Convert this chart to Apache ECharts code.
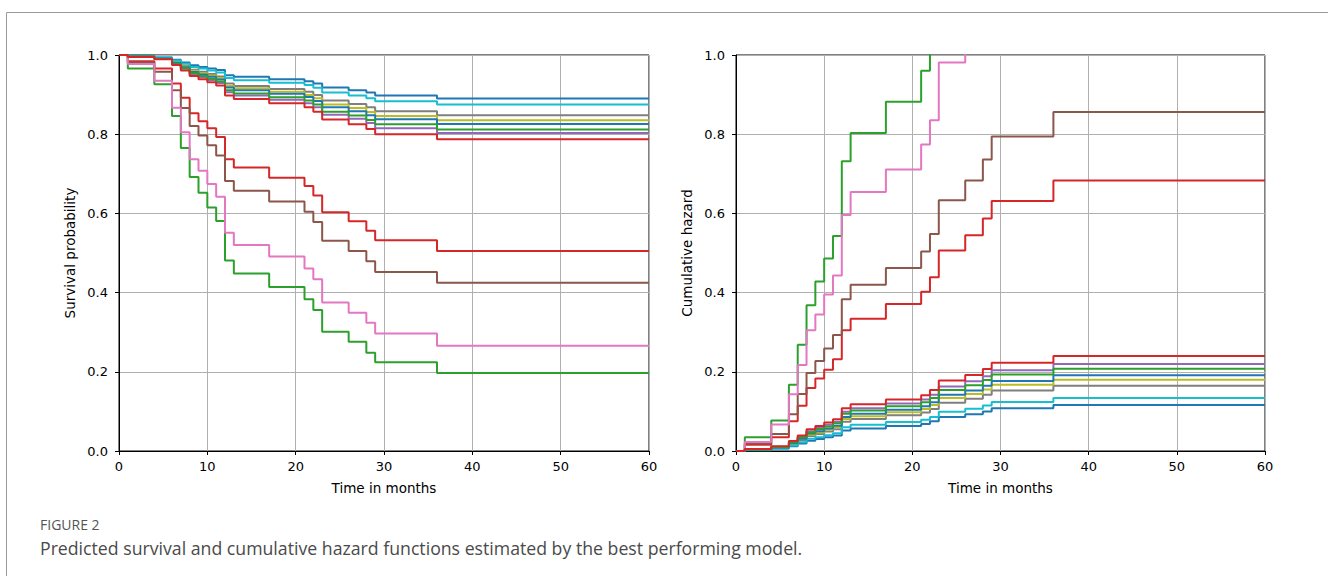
<!DOCTYPE html>
<html><head><meta charset="utf-8">
<script src="https://cdn.jsdelivr.net/npm/echarts@6/dist/echarts.min.js"></script>
<style>html,body{margin:0;padding:0;background:#fff}#c{width:1328px;height:576px}</style>
</head><body><div id="c"></div><script>
// Event times (months)
const times = [0,1,4,6,7,8,9,10,11,12,13,17,21,22,23,26,28,29,36,60];
const xTicks = [0,10,20,30,40,50,60];
const yTicks = [0.0,0.2,0.4,0.6,0.8,1.0];

// Survival probabilities
const survBlue1  = [1,0.998,0.994,0.988,0.981,0.974,0.970,0.966,0.962,0.949,0.945,0.939,0.934,0.928,0.918,0.911,0.905,0.898,0.890,0.890];
const survGreen2 = [1,0.966,0.926,0.846,0.765,0.692,0.652,0.615,0.581,0.481,0.448,0.414,0.383,0.356,0.301,0.276,0.248,0.224,0.197,0.197];
const survRed2   = [1,0.984,0.966,0.928,0.892,0.853,0.833,0.815,0.793,0.737,0.716,0.690,0.669,0.645,0.603,0.580,0.556,0.532,0.505,0.505];
const survPurple = [1,0.996,0.990,0.977,0.965,0.951,0.944,0.937,0.929,0.906,0.898,0.887,0.878,0.868,0.849,0.839,0.828,0.815,0.803,0.803];
const survBrown  = [1,0.981,0.958,0.911,0.866,0.821,0.797,0.772,0.746,0.682,0.657,0.630,0.604,0.578,0.531,0.505,0.479,0.452,0.425,0.425];
const survPink   = [1,0.977,0.935,0.867,0.805,0.737,0.708,0.674,0.642,0.551,0.520,0.491,0.461,0.434,0.375,0.349,0.324,0.297,0.266,0.266];
const survGray   = [1,0.997,0.992,0.983,0.973,0.963,0.958,0.952,0.946,0.928,0.922,0.914,0.907,0.899,0.885,0.876,0.868,0.858,0.848,0.848];
const survOlive  = [1,0.996,0.991,0.981,0.971,0.960,0.954,0.948,0.942,0.922,0.916,0.907,0.899,0.891,0.875,0.866,0.856,0.846,0.835,0.835];
const survCyan   = [1,0.997,0.994,0.986,0.978,0.970,0.966,0.961,0.956,0.942,0.936,0.930,0.924,0.917,0.905,0.898,0.891,0.883,0.875,0.875];
const survBlue2  = [1,0.996,0.991,0.980,0.969,0.957,0.951,0.945,0.938,0.918,0.911,0.902,0.894,0.884,0.868,0.858,0.848,0.838,0.826,0.826];
const survGreen1 = [1,0.996,0.990,0.978,0.967,0.954,0.947,0.940,0.933,0.911,0.903,0.893,0.885,0.875,0.857,0.847,0.836,0.825,0.812,0.812];
const survRed1   = [1,0.995,0.989,0.975,0.961,0.947,0.939,0.931,0.923,0.898,0.889,0.878,0.868,0.857,0.837,0.825,0.813,0.800,0.787,0.787];

// Cumulative hazards
const hazBlue1  = [0,0.002,0.006,0.012,0.019,0.026,0.030,0.035,0.039,0.052,0.057,0.063,0.068,0.075,0.086,0.093,0.100,0.108,0.116,0.116];
const hazGreen2 = [0,0.035,0.077,0.167,0.268,0.368,0.428,0.486,0.543,0.732,0.803,0.882,0.960,1.033,1.201,1.287,1.394,1.496,1.625,1.625];
const hazRed2   = [0,0.016,0.035,0.075,0.114,0.159,0.183,0.205,0.232,0.305,0.334,0.371,0.402,0.439,0.506,0.545,0.587,0.631,0.683,0.683];
const hazPurple = [0,0.004,0.011,0.023,0.036,0.050,0.058,0.066,0.074,0.099,0.108,0.120,0.130,0.142,0.163,0.176,0.189,0.204,0.220,0.220];
const hazBrown  = [0,0.019,0.043,0.093,0.144,0.197,0.227,0.259,0.293,0.383,0.420,0.462,0.504,0.548,0.633,0.683,0.736,0.794,0.856,0.856];
const hazPink   = [0,0.023,0.067,0.143,0.217,0.305,0.345,0.395,0.443,0.596,0.654,0.711,0.774,0.835,0.981,1.053,1.127,1.214,1.324,1.324];
const hazGray   = [0,0.003,0.008,0.017,0.027,0.038,0.043,0.049,0.055,0.074,0.081,0.090,0.097,0.106,0.122,0.132,0.142,0.153,0.165,0.165];
const hazOlive  = [0,0.004,0.009,0.019,0.030,0.041,0.047,0.054,0.060,0.081,0.088,0.098,0.106,0.116,0.134,0.144,0.155,0.167,0.180,0.180];
const hazCyan   = [0,0.003,0.006,0.014,0.022,0.031,0.035,0.040,0.045,0.060,0.066,0.073,0.079,0.086,0.099,0.107,0.115,0.124,0.134,0.134];
const hazBlue2  = [0,0.004,0.009,0.020,0.031,0.044,0.050,0.057,0.064,0.086,0.094,0.104,0.113,0.123,0.142,0.153,0.165,0.177,0.191,0.191];
const hazGreen1 = [0,0.004,0.010,0.022,0.034,0.047,0.055,0.062,0.070,0.094,0.102,0.113,0.123,0.134,0.154,0.166,0.179,0.193,0.208,0.208];
const hazRed1   = [0,0.005,0.012,0.025,0.039,0.055,0.063,0.072,0.080,0.108,0.118,0.130,0.141,0.154,0.178,0.192,0.207,0.223,0.240,0.240];

const survList = [survBlue1,survGreen2,survRed2,survPurple,survBrown,survPink,survGray,survOlive,survCyan,survBlue2,survGreen1,survRed1];
const hazList  = [hazBlue1,hazGreen2,hazRed2,hazPurple,hazBrown,hazPink,hazGray,hazOlive,hazCyan,hazBlue2,hazGreen1,hazRed1];
const colors = ['#1f77b4','#2ca02c','#d62728','#9467bd','#8c564b','#e377c2','#7f7f7f','#bcbd22','#17becf','#1f77b4','#2ca02c','#d62728'];

const FONT = 'DejaVu Sans';
function xAxis(gi){
  return {type:'value', gridIndex:gi, min:xTicks[0], max:xTicks[xTicks.length-1], interval:10,
    name:'Time in months', nameLocation:'middle', nameGap:30,
    nameTextStyle:{color:'#000', fontSize:13.5, fontFamily:FONT},
    axisLine:{show:true, onZero:false, lineStyle:{color:'#000', width:1}},
    axisTick:{show:true, length:4, lineStyle:{color:'#000', width:1}},
    axisLabel:{color:'#000', fontSize:13, fontFamily:FONT, margin:9},
    splitLine:{show:true, lineStyle:{color:'#b0b0b0', width:1}}};
}
function yAxis(gi, name){
  return {type:'value', gridIndex:gi, min:yTicks[0], max:yTicks[yTicks.length-1], interval:0.2,
    name:name, nameLocation:'middle', nameGap:42,
    nameTextStyle:{color:'#000', fontSize:13.5, fontFamily:FONT},
    axisLine:{show:true, onZero:false, lineStyle:{color:'#000', width:1}},
    axisTick:{show:true, length:4, lineStyle:{color:'#000', width:1}},
    axisLabel:{color:'#000', fontSize:13, fontFamily:FONT, margin:11, formatter:v=>v.toFixed(1)},
    splitLine:{show:true, lineStyle:{color:'#b0b0b0', width:1}}};
}
const series = [];
survList.forEach((arr,i)=>series.push({type:'line', xAxisIndex:0, yAxisIndex:0, step:'end', symbol:'none', clip:true,
  lineStyle:{width:2, color:colors[i]}, itemStyle:{color:colors[i]}, data:times.map((t,k)=>[t,arr[k]])}));
hazList.forEach((arr,i)=>series.push({type:'line', xAxisIndex:1, yAxisIndex:1, step:'end', symbol:'none', clip:true,
  lineStyle:{width:2, color:colors[i]}, itemStyle:{color:colors[i]}, data:times.map((t,k)=>[t,arr[k]])}));

const chart = echarts.init(document.getElementById('c'), null, {renderer:'svg'});
chart.setOption({
  animation:false,
  backgroundColor:'#fff',
  grid:[
    {left:119, top:55, width:530, height:396, show:true, borderColor:'#000', borderWidth:1, backgroundColor:'transparent', containLabel:false},
    {left:736, top:55, width:529, height:396, show:true, borderColor:'#000', borderWidth:1, backgroundColor:'transparent', containLabel:false}
  ],
  xAxis:[xAxis(0), xAxis(1)],
  yAxis:[yAxis(0,'Survival probability'), yAxis(1,'Cumulative hazard')],
  series:series,
  graphic:[
    {type:'polyline', silent:true, shape:{points:[[6.5,576],[6.5,12.5],[1328,12.5]]}, style:{stroke:'#9a9a9a', lineWidth:1, fill:null}},
    {type:'text', x:40, y:524, style:{text:'FIGURE 2', fill:'#555', fontSize:14, fontFamily:'Open Sans', verticalAlign:'middle'}},
    {type:'text', x:40, y:548, style:{text:'Predicted survival and cumulative hazard functions estimated by the best performing model.', fill:'#4a4a4a', fontSize:17.7, fontFamily:'Open Sans', verticalAlign:'middle'}}
  ]
});
</script></body></html>
